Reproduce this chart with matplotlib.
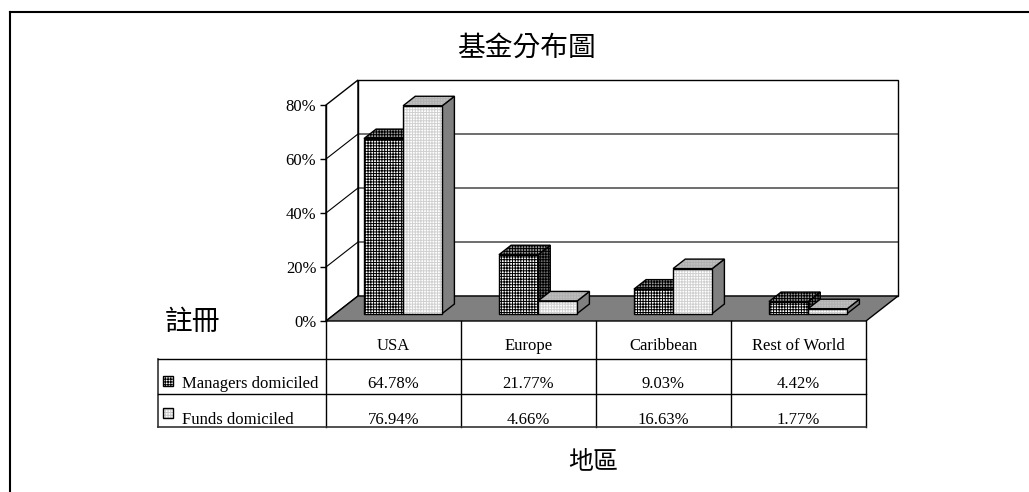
import matplotlib
matplotlib.use("Agg")
import matplotlib.pyplot as plt
from matplotlib.patches import Polygon
from matplotlib.lines import Line2D

# data
regions = ["USA", "Europe", "Caribbean", "Rest of World"]
series_names = ["Managers domiciled", "Funds domiciled"]
managers = [64.78, 21.77, 9.03, 4.42]
funds = [76.94, 4.66, 16.63, 1.77]
yticks = [0, 20, 40, 60, 80]

title = "基金分布圖"
ylabel = "註冊"
xlabel = "地區"

plt.rcParams['font.family'] = ['Liberation Serif', 'DejaVu Serif']
plt.rcParams['hatch.linewidth'] = 0.7
CJK = ['Noto Sans CJK TC', 'DejaVu Sans']

W, H = 1029, 492
fig = plt.figure(figsize=(W / 100, H / 100), dpi=100)

# front plane of the 3d box (pixels: x 326..866, y 321..105)
ax = fig.add_axes([326 / W, (H - 321) / H, 540 / W, 216 / H])
ax.set_xlim(0, 4)
ax.set_ylim(0, 80)

# depth of the box in data units
DX = 32 / 135
DY = 25 / 2.7
Z0, Z1 = 0.3, 0.68  # bar depth (fraction of floor depth)
BW = 0.29           # bar width


def poly(pts, **kw):
    kw.setdefault('clip_on', False)
    p = Polygon(pts, closed=True, **kw)
    ax.add_patch(p)
    return p


def face(pts, fc, hatch_col, z):
    poly(pts, facecolor=fc, edgecolor='none', lw=0, zorder=z)
    if hatch_col is not None:
        poly(pts, fill=False, edgecolor=hatch_col, lw=0, hatch='++++++', zorder=z)
    poly(pts, fill=False, edgecolor='black', lw=1.0, zorder=z, joinstyle='miter')


top = yticks[-1]
# side wall and back wall
poly([(0, 0), (0, top), (DX, top + DY), (DX, DY)], facecolor='white',
     edgecolor='black', lw=1.0, zorder=1)
poly([(DX, DY), (DX, top + DY), (4 + DX, top + DY), (4 + DX, DY)],
     facecolor='white', edgecolor='black', lw=1.0, zorder=1)
for v in yticks[1:-1]:
    ax.plot([0, DX, 4 + DX], [v, v + DY, v + DY], color='black', lw=0.8,
            zorder=2, clip_on=False)

# floor
poly([(0, 0), (4, 0), (4 + DX, DY), (DX, DY)], facecolor='#808080',
     edgecolor='black', lw=1.0, zorder=3)

styles = [
    # front, top, side, hatch colour
    ('white', '#9a9a9a', '#6a6a6a', 'black'),
    ('white', '#c0c0c0', '#808080', '#d0d0d0'),
]

ox0, oy0 = Z0 * DX, Z0 * DY
ox1, oy1 = Z1 * DX, Z1 * DY
z = 4
for i in range(len(regions)):
    c = i + 0.5
    for j, h in enumerate([managers[i], funds[i]]):
        x0 = c - BW + j * BW
        x1 = x0 + BW
        fc, tc, sc, hc = styles[j]
        side_hatch = hc if j == 0 else None
        face([(x1 + ox0, oy0), (x1 + ox1, oy1), (x1 + ox1, h + oy1), (x1 + ox0, h + oy0)],
             sc, side_hatch, z)
        face([(x0 + ox0, h + oy0), (x1 + ox0, h + oy0), (x1 + ox1, h + oy1), (x0 + ox1, h + oy1)],
             tc, hc if j == 0 else '#b0b0b0', z)
        face([(x0 + ox0, oy0), (x1 + ox0, oy0), (x1 + ox0, h + oy0), (x0 + ox0, h + oy0)],
             fc, hc, z)
        z += 1

for s in ['top', 'right', 'bottom']:
    ax.spines[s].set_visible(False)
ax.spines['left'].set_linewidth(1.0)
ax.spines['left'].set_zorder(20)
ax.set_xticks([])
ax.set_yticks(yticks)
ax.set_yticklabels([f"{v}%" for v in yticks])
ax.tick_params(axis='y', direction='out', length=4, width=1, pad=3, labelsize=12)
ax.patch.set_visible(False)

# data table
TL = 158
tax = fig.add_axes([TL / W, (H - 427) / H, (866 - TL) / W, 106 / H])
tax.set_xlim(-(326 - TL) / 135, 4)
tax.set_ylim(106, 0)
tax.axis('off')
xl = -(326 - TL) / 135
rows = [0, 38, 73, 106]
for k in range(5):
    tax.plot([k, k], [rows[0], rows[-1]], color='black', lw=1.0, clip_on=False)
tax.plot([xl, xl], [rows[1], rows[-1]], color='#333333', lw=1.2, clip_on=False)
for r in rows[1:]:
    tax.plot([xl, 4], [r, r], color='#333333' if r == rows[-1] else 'black',
             lw=1.2 if r == rows[-1] else 1.0, clip_on=False)

for i, name in enumerate(regions):
    tax.text(i + 0.5, 29, name, ha='center', va='baseline', fontsize=12)
    tax.text(i + 0.5, 67, f"{managers[i]:.2f}%", ha='center', va='baseline', fontsize=12)
    tax.text(i + 0.5, 103, f"{funds[i]:.2f}%", ha='center', va='baseline', fontsize=12)

# legend keys inside the table
kx0, kx1 = xl + 5 / 135, xl + 15 / 135
for j, (ky0, ky1) in enumerate([(55, 65), (87, 97)]):
    pts = [(kx0, ky0), (kx1, ky0), (kx1, ky1), (kx0, ky1)]
    hc = styles[j][3] if j == 0 else '#c8c8c8'
    tax.add_patch(Polygon(pts, facecolor='white', edgecolor='none', clip_on=False))
    tax.add_patch(Polygon(pts, fill=False, edgecolor=hc, lw=0, hatch='++++++', clip_on=False))
    tax.add_patch(Polygon(pts, fill=False, edgecolor='black', lw=1.0, clip_on=False))
    tax.text(xl + 24 / 135, [67, 103][j], series_names[j], ha='left',
             va='baseline', fontsize=12)

# titles
fig.text(526 / W, 1 - 48 / H, title, ha='center', va='center', fontsize=20,
         family=CJK, fontweight='light')
fig.text(192 / W, 1 - 322 / H, ylabel, ha='center', va='center', fontsize=20,
         family=CJK, fontweight='light')
fig.text(593 / W, 1 - 461 / H, xlabel, ha='center', va='center', fontsize=18,
         family=CJK, fontweight='light')

# page frame
fig.add_artist(Line2D([10 / W, 10 / W], [0, 1 - 12 / H], color='black', lw=1.5))
fig.add_artist(Line2D([10 / W, 1], [1 - 12 / H, 1 - 12 / H], color='black', lw=1.5))

fig.savefig("out.png", dpi=100)
